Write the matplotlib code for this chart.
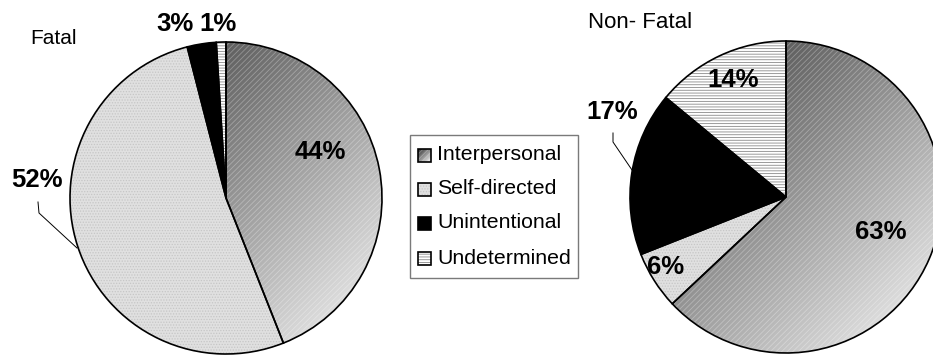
import numpy as np
import matplotlib
matplotlib.use("Agg")
import matplotlib.pyplot as plt
from matplotlib.patches import Rectangle, PathPatch
from matplotlib.colors import LinearSegmentedColormap

W, H = 933, 356

categories = ["Interpersonal", "Self-directed", "Unintentional", "Undetermined"]
fatal = [44, 52, 3, 1]
non_fatal = [63, 6, 17, 14]

plt.rcParams["font.family"] = ["Liberation Sans", "DejaVu Sans"]
plt.rcParams["hatch.linewidth"] = 0.6

grey_ramp = LinearSegmentedColormap.from_list("grey_ramp", ["#2a2a2a", "#fbfbfb"])

FILLS = {
    "Interpersonal": dict(gradient=True, hatch="//////", hcolor=(1, 1, 1, 0.3)),
    "Self-directed": dict(face="#e0e0e0", hatch="......", hcolor="#c6c6c6"),
    "Unintentional": dict(face="black", hatch=None, hcolor="black"),
    "Undetermined":  dict(face="white", hatch="------", hcolor="#8a8a8a"),
}


def px(x, y):
    # layout below is measured in pixels from the top-left corner
    return x, H - y


def paint(ax, patch, name, extent, z=1):
    """Fill a wedge / swatch with the series style and draw its outline."""
    style = FILLS[name]
    path, tr = patch.get_path(), patch.get_transform()
    patch.set_linewidth(0)
    patch.set_zorder(z)
    if style.get("gradient"):
        patch.set_facecolor("none")
        patch.set_edgecolor("none")
        g = np.linspace(0, 1, 256)
        ramp = (g[None, :] + g[:, None]) / 2
        im = ax.imshow(ramp, cmap=grey_ramp, extent=extent, origin="upper",
                       interpolation="bilinear", zorder=z)
        im.set_clip_path(patch)
        ax.add_patch(PathPatch(path, transform=tr, facecolor="none",
                               edgecolor=style["hcolor"], lw=0,
                               hatch=style["hatch"], zorder=z + 0.1))
    else:
        patch.set_facecolor(style["face"])
        patch.set_edgecolor(style["hcolor"])
        if style["hatch"]:
            patch.set_hatch(style["hatch"])
    ax.add_patch(PathPatch(path, transform=tr, facecolor="none",
                           edgecolor="black", lw=1.2, zorder=z + 0.2))


def draw_pie(ax, values, center, radius):
    cx, cy = px(*center)
    wedges, _ = ax.pie(values, center=(cx, cy), radius=radius, startangle=90,
                       counterclock=False, wedgeprops=dict(linewidth=0))
    extent = (cx - radius, cx + radius, cy - radius, cy + radius)
    for w, name in zip(wedges, categories):
        paint(ax, w, name, extent)


fig = plt.figure(figsize=(W / 100, H / 100), dpi=100)
ax = fig.add_axes([0, 0, 1, 1])

draw_pie(ax, fatal, (226, 198), 156)
draw_pie(ax, non_fatal, (786, 197), 156)

# percentage labels
label_kw = dict(ha="center", va="center", fontsize=18.5, fontweight="bold", zorder=5)
fatal_pos = [(320, 152), (37, 180), (175, 24), (218, 24)]
non_fatal_pos = [(881, 232), (666, 267), (612, 112), (733, 80)]
for vals, pos in ((fatal, fatal_pos), (non_fatal, non_fatal_pos)):
    for v, (x, y) in zip(vals, pos):
        ax.text(*px(x, y), f"{v}%", **label_kw)

# leader lines for the labels that sit outside their slice
for pts in ([(38, 202), (39, 213), (77, 248)],
            [(613, 133), (613, 142), (632, 170)]):
    xs, ys = zip(*[px(x, y) for x, y in pts])
    ax.plot(xs, ys, color="black", lw=0.7, zorder=4)

ax.text(*px(53, 39), "Fatal", ha="center", va="center", fontsize=15)
ax.text(*px(640, 23), "Non- Fatal", ha="center", va="center", fontsize=16)

# legend, drawn by hand so the swatches share the slice fills
lx0, ly0, lx1, ly1 = 410, 135, 578, 278
ax.add_patch(Rectangle(px(lx0, ly1), lx1 - lx0, ly1 - ly0, facecolor="white",
                       edgecolor="#7a7a7a", lw=1.0, zorder=6))
row_y = [155, 189, 223, 258]
for name, y in zip(categories, row_y):
    sx, sy = px(418, y + 7)
    sw = Rectangle((sx, sy), 13, 13)
    ax.add_patch(sw)
    paint(ax, sw, name, (sx, sx + 13, sy, sy + 13), z=7)
    ax.text(*px(437, y), name, ha="left", va="center", fontsize=15.3, zorder=8)

ax.set_xlim(0, W)
ax.set_ylim(0, H)
ax.set_aspect("auto")
ax.axis("off")

fig.savefig("out.png", dpi=100)
